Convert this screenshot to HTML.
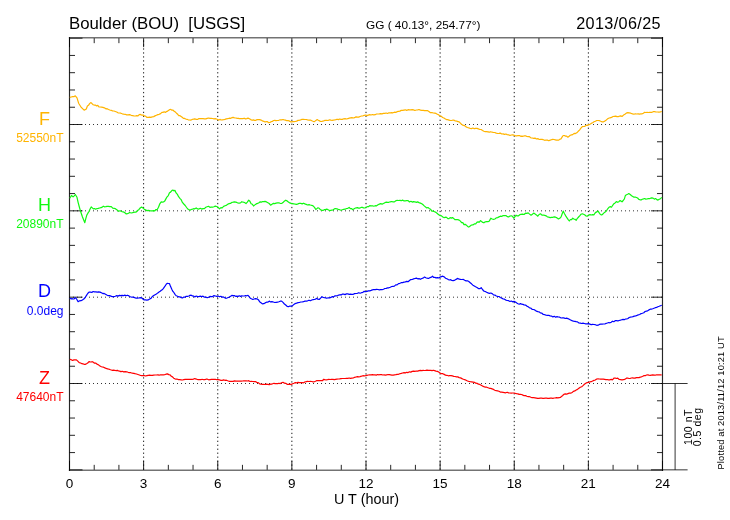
<!DOCTYPE html>
<html><head><meta charset="utf-8"><style>
html,body{margin:0;padding:0;background:#fff;}
svg{display:block;will-change:transform;}
text{font-family:"Liberation Sans",sans-serif;}
</style></head><body>
<svg width="730" height="520" viewBox="0 0 730 520">
<path d="M69.5 37.0V471.0M662.49 37.0V471.0" stroke="#000" stroke-width="1.15" stroke-opacity="0.85" fill="none"/>
<path d="M68.9 37.75H663.09M68.9 470.25H663.09" stroke="#000" stroke-width="1.5" stroke-opacity="0.55" fill="none"/>
<line x1="143.62" y1="38.17" x2="143.62" y2="469.845" stroke="#000" stroke-width="1" stroke-dasharray="1.3 2.663" stroke-dashoffset="1.71" stroke-opacity="0.9"/>
<line x1="217.75" y1="38.17" x2="217.75" y2="469.845" stroke="#000" stroke-width="1" stroke-dasharray="1.3 2.663" stroke-dashoffset="1.71" stroke-opacity="0.9"/>
<line x1="291.87" y1="38.17" x2="291.87" y2="469.845" stroke="#000" stroke-width="1" stroke-dasharray="1.3 2.663" stroke-dashoffset="1.71" stroke-opacity="0.9"/>
<line x1="366.00" y1="38.17" x2="366.00" y2="469.845" stroke="#000" stroke-width="1" stroke-dasharray="1.3 2.663" stroke-dashoffset="1.71" stroke-opacity="0.9"/>
<line x1="440.12" y1="38.17" x2="440.12" y2="469.845" stroke="#000" stroke-width="1" stroke-dasharray="1.3 2.663" stroke-dashoffset="1.71" stroke-opacity="0.9"/>
<line x1="514.24" y1="38.17" x2="514.24" y2="469.845" stroke="#000" stroke-width="1" stroke-dasharray="1.3 2.663" stroke-dashoffset="1.71" stroke-opacity="0.9"/>
<line x1="588.37" y1="38.17" x2="588.37" y2="469.845" stroke="#000" stroke-width="1" stroke-dasharray="1.3 2.663" stroke-dashoffset="1.71" stroke-opacity="0.9"/>
<line x1="69.5" y1="124.50" x2="662.49" y2="124.50" stroke="#000" stroke-width="1" stroke-dasharray="1 3" stroke-dashoffset="0.5" stroke-opacity="0.8"/>
<line x1="69.5" y1="210.84" x2="662.49" y2="210.84" stroke="#000" stroke-width="1" stroke-dasharray="1 3" stroke-dashoffset="0.5" stroke-opacity="0.8"/>
<line x1="69.5" y1="297.18" x2="662.49" y2="297.18" stroke="#000" stroke-width="1" stroke-dasharray="1 3" stroke-dashoffset="0.5" stroke-opacity="0.8"/>
<line x1="69.5" y1="383.51" x2="662.49" y2="383.51" stroke="#000" stroke-width="1" stroke-dasharray="1 3" stroke-dashoffset="0.5" stroke-opacity="0.8"/>
<path d="M69.50 469.85v-9M69.50 38.17v9M94.21 469.85v-5M94.21 38.17v5M118.92 469.85v-5M118.92 38.17v5M143.62 469.85v-9M143.62 38.17v9M168.33 469.85v-5M168.33 38.17v5M193.04 469.85v-5M193.04 38.17v5M217.75 469.85v-9M217.75 38.17v9M242.46 469.85v-5M242.46 38.17v5M267.16 469.85v-5M267.16 38.17v5M291.87 469.85v-9M291.87 38.17v9M316.58 469.85v-5M316.58 38.17v5M341.29 469.85v-5M341.29 38.17v5M366.00 469.85v-9M366.00 38.17v9M390.70 469.85v-5M390.70 38.17v5M415.41 469.85v-5M415.41 38.17v5M440.12 469.85v-9M440.12 38.17v9M464.83 469.85v-5M464.83 38.17v5M489.54 469.85v-5M489.54 38.17v5M514.24 469.85v-9M514.24 38.17v9M538.95 469.85v-5M538.95 38.17v5M563.66 469.85v-5M563.66 38.17v5M588.37 469.85v-9M588.37 38.17v9M613.08 469.85v-5M613.08 38.17v5M637.78 469.85v-5M637.78 38.17v5M662.49 469.85v-9M662.49 38.17v9M69.5 38.17h13M662.49 38.17h-11.5M69.5 55.44h5.5M662.49 55.44h-5.5M69.5 72.70h5.5M662.49 72.70h-5.5M69.5 89.97h5.5M662.49 89.97h-5.5M69.5 107.24h5.5M662.49 107.24h-5.5M69.5 124.50h13M662.49 124.50h-11.5M69.5 141.77h5.5M662.49 141.77h-5.5M69.5 159.04h5.5M662.49 159.04h-5.5M69.5 176.31h5.5M662.49 176.31h-5.5M69.5 193.57h5.5M662.49 193.57h-5.5M69.5 210.84h13M662.49 210.84h-11.5M69.5 228.11h5.5M662.49 228.11h-5.5M69.5 245.37h5.5M662.49 245.37h-5.5M69.5 262.64h5.5M662.49 262.64h-5.5M69.5 279.91h5.5M662.49 279.91h-5.5M69.5 297.18h13M662.49 297.18h-11.5M69.5 314.44h5.5M662.49 314.44h-5.5M69.5 331.71h5.5M662.49 331.71h-5.5M69.5 348.98h5.5M662.49 348.98h-5.5M69.5 366.24h5.5M662.49 366.24h-5.5M69.5 383.51h13M662.49 383.51h-11.5M69.5 400.78h5.5M662.49 400.78h-5.5M69.5 418.04h5.5M662.49 418.04h-5.5M69.5 435.31h5.5M662.49 435.31h-5.5M69.5 452.58h5.5M662.49 452.58h-5.5M69.5 469.85h13M662.49 469.85h-11.5" stroke="#000" stroke-width="1" fill="none" stroke-opacity="0.85"/>
<path d="M662.49 383.51H687.6M662.49 469.85H687.6M675.1 383.51V469.85" stroke="#000" stroke-width="1" fill="none" stroke-opacity="0.8"/>
<path d="M69.8 97.3 L71.2 97.0 L72.6 96.7 L73.9 96.7 L75.3 95.8 L77.0 97.9 L78.6 103.2 L80.2 105.7 L81.3 107.5 L82.4 108.4 L83.5 109.6 L84.6 110.1 L86.3 109.0 L87.4 106.0 L88.5 105.3 L89.6 103.6 L90.7 102.6 L92.0 103.6 L93.2 104.7 L94.5 105.1 L95.6 105.2 L96.7 106.0 L97.8 105.4 L98.9 106.8 L100.0 107.0 L101.5 107.1 L102.9 107.4 L104.4 107.8 L105.8 108.8 L107.1 108.7 L108.5 109.5 L109.8 110.0 L111.2 110.3 L112.5 110.9 L113.9 111.0 L115.3 111.5 L116.7 112.0 L118.0 112.8 L119.4 113.0 L120.8 113.2 L122.3 113.8 L123.7 114.1 L125.2 114.3 L126.7 114.9 L128.1 114.9 L129.6 114.6 L131.2 115.3 L132.8 115.6 L134.1 116.0 L135.4 116.0 L136.7 115.7 L138.0 115.9 L139.2 114.6 L140.5 114.4 L141.9 115.2 L143.3 115.1 L144.5 116.0 L145.6 116.1 L146.8 117.3 L148.2 117.3 L149.6 117.1 L150.9 117.4 L152.3 116.8 L153.7 116.6 L155.0 115.9 L156.4 115.3 L157.8 114.6 L159.2 114.3 L160.6 113.6 L161.9 112.3 L163.0 112.4 L164.2 111.8 L165.3 112.4 L166.5 111.6 L167.6 111.1 L168.8 110.2 L169.8 109.5 L170.8 109.4 L171.9 110.2 L173.1 110.2 L174.2 111.2 L175.4 112.1 L176.5 113.2 L177.7 114.3 L178.8 115.6 L180.0 115.7 L181.1 116.5 L182.2 117.3 L183.4 118.4 L184.5 118.4 L185.7 119.0 L187.0 119.3 L188.2 119.8 L189.5 120.0 L190.7 120.2 L192.1 119.4 L193.4 119.2 L194.8 118.9 L196.2 119.3 L197.6 119.4 L198.9 118.6 L200.3 118.6 L201.7 118.6 L203.1 118.6 L204.4 118.8 L205.8 118.9 L207.2 118.4 L208.5 118.0 L209.9 118.3 L211.2 118.3 L212.6 118.5 L213.9 118.9 L215.3 118.7 L216.5 119.0 L217.6 119.5 L218.8 120.1 L219.9 119.4 L221.1 120.0 L222.2 119.8 L223.6 119.7 L224.9 119.4 L226.3 118.9 L227.7 118.7 L229.1 118.2 L230.4 118.4 L231.8 117.7 L233.2 117.4 L234.5 117.8 L235.9 118.0 L237.2 118.4 L238.6 118.4 L239.1 118.6 L240.4 118.6 L241.6 118.5 L242.9 118.6 L244.2 118.2 L245.5 118.9 L246.7 118.6 L248.0 118.1 L249.4 118.8 L250.7 119.6 L252.1 120.3 L253.3 119.9 L254.6 120.4 L255.8 120.3 L257.1 119.6 L258.3 119.5 L259.7 119.6 L261.1 120.1 L262.4 120.9 L263.8 121.3 L265.0 122.0 L266.2 121.6 L267.5 121.7 L268.7 122.7 L269.9 122.5 L271.1 121.7 L272.3 121.5 L273.5 120.5 L274.7 120.4 L276.1 120.7 L277.4 120.5 L278.8 120.3 L280.2 119.8 L281.6 119.8 L282.9 119.5 L284.3 119.9 L285.5 120.1 L286.8 120.7 L288.0 120.6 L289.3 120.9 L290.5 121.8 L291.7 121.9 L292.9 121.7 L294.1 121.6 L295.3 121.5 L296.7 121.1 L298.0 120.4 L299.4 120.3 L300.7 119.9 L302.1 119.3 L303.5 119.3 L304.9 119.5 L306.2 119.5 L307.6 119.9 L309.0 120.1 L310.4 120.0 L311.8 120.8 L313.1 121.3 L314.5 121.6 L315.9 120.4 L317.2 119.6 L318.3 120.3 L319.5 120.9 L320.6 121.5 L321.7 121.4 L322.9 121.2 L324.0 120.7 L325.4 120.3 L326.8 120.4 L328.1 120.5 L329.5 119.8 L330.9 120.2 L332.1 120.3 L333.4 120.1 L334.6 119.9 L335.9 119.6 L337.1 119.2 L338.4 119.6 L339.6 119.0 L341.0 119.4 L342.3 119.4 L343.7 118.8 L345.1 118.7 L346.5 119.0 L347.8 118.7 L349.2 118.1 L350.6 117.8 L351.9 117.6 L353.3 118.0 L354.6 117.7 L356.0 116.8 L357.4 117.2 L358.7 117.1 L360.1 116.5 L361.5 116.0 L362.8 116.0 L364.2 115.3 L365.6 115.0 L367.0 115.6 L368.3 115.1 L369.7 114.7 L371.1 115.0 L372.4 114.5 L373.8 114.8 L375.2 114.7 L376.5 114.0 L377.9 114.0 L379.3 113.9 L380.7 113.7 L382.0 113.8 L383.4 113.4 L384.8 113.4 L386.2 113.0 L387.6 113.5 L388.9 112.8 L390.3 112.8 L391.7 112.7 L393.0 112.8 L394.4 112.2 L395.8 112.4 L397.1 111.7 L398.5 111.4 L399.9 111.1 L401.2 110.4 L402.6 110.4 L404.0 110.1 L405.3 109.8 L406.7 110.4 L408.1 109.7 L409.5 109.8 L410.8 109.9 L412.2 109.7 L413.5 109.9 L414.9 110.5 L416.3 110.0 L417.7 109.8 L419.1 109.5 L420.4 110.2 L421.8 110.3 L423.2 110.3 L424.6 110.7 L425.9 110.5 L427.3 110.6 L428.9 111.6 L430.5 112.7 L431.9 112.5 L433.2 113.0 L434.6 113.1 L436.0 113.4 L437.4 114.3 L438.7 114.9 L440.0 115.7 L441.4 116.4 L442.6 117.5 L443.9 118.0 L445.1 118.8 L446.4 119.6 L447.6 119.7 L449.0 120.1 L450.4 120.5 L451.7 120.5 L453.1 120.0 L454.3 120.4 L455.5 121.0 L456.8 121.1 L458.0 121.7 L459.2 121.9 L460.6 123.4 L461.9 124.4 L463.3 125.4 L464.7 125.7 L466.1 126.9 L467.4 127.5 L468.8 127.8 L470.2 128.5 L471.5 128.6 L472.9 128.0 L474.3 128.7 L475.7 128.3 L477.0 128.4 L478.4 128.9 L479.8 129.5 L481.2 129.5 L482.5 130.4 L483.9 131.2 L485.3 131.7 L486.7 131.6 L488.0 131.8 L489.4 132.2 L490.7 131.7 L492.1 132.2 L493.5 132.5 L494.8 132.5 L496.2 133.1 L497.6 133.5 L499.0 133.4 L500.3 133.1 L501.7 134.0 L503.1 133.9 L504.5 134.4 L505.9 134.0 L507.2 134.6 L508.6 134.8 L510.0 135.5 L511.3 135.0 L512.6 134.9 L514.0 135.2 L515.4 135.8 L516.8 135.9 L518.1 135.5 L519.5 135.6 L520.7 136.3 L521.9 136.1 L523.1 136.3 L524.4 135.8 L525.6 135.8 L526.8 136.5 L528.2 136.6 L529.5 136.7 L530.9 137.9 L532.3 138.0 L533.7 138.4 L535.0 138.1 L536.4 139.0 L537.8 138.6 L539.2 139.5 L540.5 139.3 L541.9 139.4 L543.3 139.7 L544.7 140.3 L546.0 140.0 L547.4 140.1 L548.8 140.7 L550.2 140.1 L551.5 139.7 L552.9 139.4 L554.1 139.5 L555.3 139.8 L556.5 140.1 L557.7 140.2 L558.8 140.1 L560.0 139.1 L561.1 138.8 L562.2 136.9 L563.2 135.5 L564.4 135.5 L565.5 136.1 L566.7 136.2 L567.9 137.2 L569.1 136.3 L570.3 135.3 L571.5 134.9 L572.7 134.6 L574.1 133.4 L575.4 133.6 L576.8 132.8 L578.2 131.3 L579.5 130.1 L580.9 128.2 L582.3 126.7 L583.5 126.5 L584.8 126.3 L586.0 125.4 L587.3 125.4 L588.5 124.9 L589.9 124.2 L591.2 123.4 L592.6 122.7 L594.0 121.8 L595.4 121.2 L596.7 120.5 L598.1 120.5 L599.5 120.7 L600.8 121.3 L602.2 121.9 L603.5 121.8 L604.8 121.1 L606.0 120.2 L607.3 119.1 L608.6 118.3 L610.0 117.8 L611.5 117.4 L613.0 116.5 L614.4 116.3 L615.7 116.1 L616.9 116.6 L618.2 116.6 L619.5 116.2 L620.7 115.9 L622.0 116.5 L623.5 115.1 L624.9 114.3 L626.3 113.1 L627.8 112.6 L629.2 112.9 L630.7 113.2 L632.6 113.9 L634.0 114.2 L635.3 113.8 L636.7 114.0 L638.1 113.8 L639.5 114.1 L640.8 113.8 L642.2 113.8 L643.4 113.2 L644.6 112.3 L645.8 112.5 L647.1 112.4 L648.3 112.5 L649.6 112.3 L650.8 112.3 L652.0 112.3 L653.2 111.7 L654.4 111.5 L655.6 111.9 L657.5 112.0 L658.9 112.2 L660.4 111.9 L661.8 111.5" fill="none" stroke="#ffb400" stroke-width="1.2" stroke-linejoin="round"/>
<path d="M69.8 198.2 L71.5 195.5 L73.1 196.9 L74.2 195.9 L75.3 194.5 L77.0 197.3 L78.1 202.3 L79.2 206.5 L80.2 210.2 L81.3 213.5 L82.4 216.7 L83.5 219.4 L84.8 222.7 L85.8 218.6 L86.8 215.1 L87.9 213.2 L89.0 211.5 L90.1 209.1 L91.2 206.9 L92.3 207.9 L93.4 208.9 L94.5 208.5 L95.6 209.2 L96.7 208.7 L98.2 208.4 L99.6 208.0 L101.1 207.7 L102.2 207.1 L103.3 206.2 L104.4 206.8 L105.8 206.7 L107.1 206.4 L108.5 206.4 L109.8 206.6 L111.3 206.6 L112.7 208.2 L114.2 208.3 L115.7 208.9 L117.1 209.9 L118.6 211.3 L120.1 210.7 L121.5 211.5 L123.0 211.9 L124.1 212.2 L125.2 213.0 L126.3 214.0 L127.4 213.7 L128.5 213.3 L129.6 212.5 L131.2 213.0 L132.8 212.7 L133.9 212.3 L135.0 212.0 L136.1 212.1 L137.5 210.5 L138.8 209.7 L140.2 208.0 L141.6 207.0 L142.9 207.9 L144.2 209.2 L145.5 209.9 L146.8 210.6 L148.2 210.3 L149.6 210.7 L150.9 210.8 L152.3 210.9 L153.7 210.6 L154.8 210.9 L156.0 209.5 L157.1 209.8 L158.5 207.3 L159.8 203.8 L161.2 201.9 L162.4 202.1 L163.5 202.0 L164.7 201.1 L165.9 198.9 L167.1 196.8 L168.3 195.6 L169.5 192.7 L170.6 192.1 L171.8 190.6 L172.9 190.0 L173.9 190.9 L174.9 190.3 L176.1 192.9 L177.4 194.4 L178.6 196.7 L179.9 198.3 L181.1 199.6 L182.4 202.4 L183.8 204.0 L185.2 205.5 L186.6 207.5 L187.7 208.9 L188.9 209.6 L190.0 210.2 L191.2 209.5 L192.4 209.2 L193.6 208.7 L194.8 208.8 L196.2 207.9 L197.6 208.9 L198.9 209.1 L200.3 208.3 L201.7 209.1 L203.0 208.6 L204.4 208.6 L205.8 207.3 L207.1 206.8 L208.5 206.3 L209.9 207.3 L211.2 207.2 L212.6 207.2 L213.9 206.8 L215.3 206.1 L216.7 206.5 L218.1 207.3 L219.5 208.8 L220.9 207.6 L222.2 207.8 L223.6 206.4 L225.0 205.8 L226.3 205.4 L227.7 204.3 L229.1 203.6 L230.4 203.4 L231.8 202.4 L233.2 202.2 L234.5 201.9 L235.9 202.1 L237.5 202.8 L239.1 203.1 L240.5 202.9 L241.8 201.7 L243.2 202.2 L244.6 202.5 L246.0 203.6 L247.3 202.1 L248.7 200.2 L249.9 201.3 L251.1 203.8 L252.3 204.2 L253.5 206.0 L254.9 204.9 L256.2 203.9 L257.6 203.4 L259.0 202.8 L260.2 201.8 L261.4 202.1 L262.7 201.5 L263.9 201.7 L265.1 201.4 L266.5 201.9 L267.9 202.7 L269.2 203.5 L270.6 205.2 L272.0 204.2 L273.4 203.3 L274.7 203.6 L276.1 203.2 L277.5 202.9 L278.9 202.9 L280.2 203.3 L281.6 203.5 L283.0 202.6 L284.3 201.2 L285.7 200.2 L287.1 200.9 L288.4 201.9 L289.8 202.9 L291.1 203.4 L292.5 203.6 L293.9 203.8 L295.2 204.2 L296.6 204.3 L298.0 203.9 L299.4 203.3 L300.7 203.3 L302.1 203.9 L303.5 203.2 L304.9 203.9 L306.2 204.4 L307.6 205.0 L309.0 204.6 L310.4 205.0 L311.7 205.3 L313.1 205.9 L314.5 207.4 L315.8 209.5 L316.9 208.6 L317.9 207.8 L319.2 208.3 L320.6 209.8 L321.8 210.4 L323.0 210.4 L324.2 209.7 L325.4 209.6 L326.8 209.1 L328.1 209.8 L329.5 210.6 L330.7 210.3 L331.9 210.1 L333.1 210.0 L334.3 208.9 L335.5 208.5 L336.9 208.8 L338.2 209.4 L339.6 209.7 L341.0 210.2 L342.4 209.7 L343.7 209.3 L345.1 209.2 L346.5 208.5 L347.8 208.3 L349.2 207.4 L350.3 208.7 L351.5 208.5 L352.6 209.7 L353.8 209.0 L355.0 208.3 L356.2 207.8 L357.4 207.6 L358.6 208.1 L359.9 208.1 L361.1 207.4 L362.4 207.4 L363.6 207.9 L364.9 208.0 L366.1 207.3 L367.3 206.7 L368.5 206.7 L369.7 205.6 L371.1 205.8 L372.5 205.8 L373.8 206.2 L375.2 205.7 L376.6 205.8 L378.0 204.8 L379.4 204.1 L380.7 203.6 L382.1 204.1 L383.5 203.5 L384.8 202.7 L386.2 202.1 L387.5 202.4 L388.9 202.3 L390.3 201.8 L391.6 201.5 L393.0 201.8 L394.4 201.9 L395.8 200.8 L397.1 200.4 L398.5 200.5 L399.9 200.4 L401.3 200.7 L402.6 200.1 L404.0 200.9 L405.3 200.8 L406.7 200.5 L408.1 200.6 L409.5 202.0 L410.9 201.3 L412.2 202.1 L413.5 201.6 L414.9 201.8 L416.3 202.4 L417.6 201.9 L419.0 202.6 L420.4 203.1 L421.8 203.8 L423.1 204.8 L424.5 206.1 L425.6 207.0 L426.8 207.9 L428.0 207.5 L429.1 208.4 L430.5 209.2 L431.8 211.1 L433.2 211.2 L434.6 211.7 L436.0 212.4 L437.3 213.5 L438.7 214.7 L440.1 215.4 L441.5 215.9 L442.8 217.0 L444.2 217.6 L445.4 217.2 L446.6 217.4 L447.8 218.6 L449.0 218.7 L450.1 217.6 L451.3 218.1 L452.4 217.6 L453.8 218.6 L455.1 219.7 L456.5 219.7 L457.8 219.6 L459.2 220.1 L460.4 221.1 L461.6 222.7 L462.8 222.6 L464.0 224.6 L465.2 224.3 L466.4 225.2 L467.6 226.4 L468.8 227.1 L470.2 226.0 L471.5 225.0 L472.9 224.9 L474.3 223.9 L475.7 223.8 L477.1 222.1 L478.2 221.9 L479.4 222.1 L480.5 220.6 L481.6 221.5 L482.8 222.4 L483.9 222.8 L485.3 221.8 L486.6 221.7 L488.0 221.7 L489.4 220.9 L490.8 218.2 L492.2 219.0 L493.5 219.4 L494.9 219.0 L496.2 217.9 L497.6 217.6 L499.0 216.9 L500.4 216.2 L501.7 216.4 L503.1 215.6 L504.5 215.7 L505.9 215.5 L507.2 216.6 L508.6 216.9 L510.0 216.0 L511.3 215.8 L512.5 216.3 L513.8 218.2 L515.0 216.6 L516.1 215.2 L517.2 215.9 L518.2 215.9 L519.5 214.9 L520.9 214.3 L522.5 214.2 L524.1 214.5 L525.5 213.2 L526.8 213.4 L528.2 212.9 L529.6 214.1 L531.0 215.2 L532.4 214.2 L533.7 213.1 L535.1 214.0 L536.4 214.9 L537.8 216.2 L539.1 214.5 L540.5 213.8 L541.9 215.1 L543.3 215.0 L544.7 215.4 L546.1 215.8 L547.4 216.9 L548.8 217.1 L550.2 217.7 L551.5 217.4 L552.9 217.3 L554.2 216.9 L555.6 217.2 L557.0 217.9 L558.4 219.0 L559.8 218.3 L561.1 216.9 L562.2 213.8 L563.2 211.1 L564.5 213.7 L565.9 216.1 L567.0 217.8 L568.2 219.6 L569.3 221.0 L570.4 219.5 L571.6 219.6 L572.7 218.2 L573.9 219.0 L575.0 219.3 L576.2 220.3 L577.4 218.3 L578.6 217.0 L579.9 215.7 L581.1 214.2 L582.3 213.8 L583.5 214.3 L584.6 214.8 L585.8 215.8 L587.2 216.2 L588.5 215.2 L589.9 214.6 L591.3 215.0 L592.6 214.6 L594.0 214.8 L595.4 212.6 L596.7 211.9 L598.1 211.2 L599.2 212.8 L600.4 214.5 L601.5 215.0 L602.6 214.4 L603.7 213.1 L604.8 212.2 L606.2 211.2 L607.7 208.8 L609.1 207.2 L610.3 206.6 L611.5 207.2 L612.7 205.3 L613.9 203.7 L615.1 202.9 L616.3 201.6 L617.7 202.3 L618.9 201.7 L620.1 200.5 L622.0 201.8 L623.2 200.5 L624.4 198.8 L625.4 195.4 L626.5 194.7 L627.7 194.3 L628.8 193.6 L630.2 194.5 L631.6 195.7 L632.8 196.4 L634.0 197.2 L635.2 197.0 L636.4 197.5 L637.6 198.0 L638.8 199.4 L640.0 199.8 L641.2 199.9 L642.3 199.3 L643.5 198.9 L644.6 198.5 L645.8 199.1 L647.0 199.0 L648.2 198.6 L649.4 198.7 L650.6 198.2 L651.8 197.9 L653.1 198.1 L654.3 199.1 L655.6 198.5 L656.8 199.6 L658.0 200.1 L659.3 199.2 L660.5 198.7 L661.8 197.3" fill="none" stroke="#10f810" stroke-width="1.2" stroke-linejoin="round"/>
<path d="M69.8 298.0 L70.9 298.9 L72.0 298.7 L73.1 299.0 L74.2 298.9 L75.3 297.7 L76.7 299.2 L78.1 301.7 L79.5 300.8 L81.0 300.7 L82.4 299.9 L83.8 299.1 L85.2 297.5 L86.5 295.4 L87.7 293.5 L89.0 292.2 L90.4 292.2 L91.8 292.4 L93.1 291.5 L94.5 291.9 L95.9 291.8 L97.2 292.1 L98.6 291.9 L100.0 292.1 L101.4 292.8 L102.8 293.6 L104.1 293.4 L105.5 294.2 L106.8 295.0 L108.2 295.7 L109.6 295.6 L110.9 296.1 L112.4 296.7 L113.8 296.7 L115.3 296.2 L116.7 295.6 L118.0 296.1 L119.4 295.4 L120.8 295.7 L122.1 295.4 L123.4 295.7 L124.8 295.1 L126.1 295.7 L127.4 295.2 L128.9 295.9 L130.3 296.7 L131.8 297.2 L133.2 297.1 L134.7 297.6 L136.1 298.2 L137.5 298.2 L138.8 298.0 L140.2 297.7 L141.6 297.8 L142.9 299.0 L144.2 299.9 L145.5 299.9 L146.9 300.1 L148.2 299.9 L149.6 299.0 L151.0 298.4 L152.3 296.5 L153.7 295.6 L155.1 294.7 L156.4 294.0 L157.8 292.9 L159.0 292.1 L160.2 291.3 L161.4 290.3 L162.6 289.5 L163.8 287.8 L165.0 286.2 L166.2 284.3 L167.4 283.3 L168.4 283.5 L169.5 283.7 L170.6 286.6 L171.8 289.2 L172.9 291.4 L174.0 292.7 L175.2 294.6 L176.3 295.8 L177.5 296.2 L178.8 296.9 L180.0 296.9 L181.3 297.6 L182.5 298.0 L183.8 297.1 L185.0 297.2 L186.2 296.3 L187.5 296.4 L188.8 296.0 L190.0 295.3 L191.2 295.2 L192.4 295.9 L193.6 296.1 L194.8 296.9 L196.2 296.0 L197.6 296.6 L198.9 296.6 L200.3 296.2 L201.7 296.5 L203.0 296.2 L204.4 297.2 L205.7 297.0 L207.1 297.6 L208.5 297.3 L209.9 296.4 L211.2 296.7 L212.6 296.6 L214.0 295.6 L215.4 296.0 L216.7 296.4 L218.1 296.0 L219.4 296.8 L220.8 296.3 L222.0 297.1 L223.3 296.9 L224.5 297.6 L225.8 298.3 L227.0 298.0 L228.2 297.5 L229.4 297.1 L230.6 296.3 L231.8 295.4 L233.1 295.6 L234.3 295.6 L235.6 296.3 L236.8 296.2 L238.1 296.4 L239.3 295.8 L240.6 296.4 L241.8 295.9 L243.0 296.0 L244.3 296.0 L245.5 295.5 L246.8 295.8 L248.0 295.3 L249.1 296.7 L250.3 298.2 L251.4 298.8 L252.8 299.5 L254.1 299.0 L255.5 298.6 L256.9 298.8 L258.3 299.7 L259.6 301.7 L261.0 302.7 L262.4 303.9 L263.8 303.7 L265.1 302.9 L266.5 302.2 L267.8 302.2 L269.2 301.1 L270.6 301.9 L272.0 301.6 L273.3 302.0 L274.7 302.5 L276.1 302.3 L277.5 302.2 L278.9 301.7 L280.2 301.2 L281.6 301.1 L283.0 302.4 L284.4 304.0 L285.7 305.0 L287.1 306.3 L288.5 306.7 L289.8 306.0 L291.2 306.1 L292.6 305.7 L293.9 304.4 L295.2 303.6 L296.6 303.2 L298.0 302.6 L299.4 302.5 L300.7 302.0 L302.1 302.0 L303.5 301.7 L304.9 301.1 L306.2 301.2 L307.6 300.8 L309.0 300.2 L310.4 300.7 L311.8 300.0 L313.1 299.7 L314.5 299.5 L315.5 299.1 L316.5 298.4 L317.9 299.1 L319.2 299.5 L320.6 298.1 L322.0 296.7 L323.2 297.5 L324.4 297.7 L325.6 297.8 L326.8 298.3 L328.2 297.8 L329.5 297.9 L330.9 297.4 L332.3 296.6 L333.6 296.9 L335.0 295.8 L336.2 295.9 L337.5 295.5 L338.7 295.1 L340.0 294.7 L341.2 295.0 L342.5 294.0 L343.7 294.2 L345.1 294.6 L346.4 293.9 L347.8 293.9 L349.2 294.3 L350.5 294.2 L351.9 294.3 L353.3 294.3 L354.6 293.6 L356.0 293.5 L357.4 293.3 L358.8 292.7 L360.1 293.2 L361.5 292.7 L362.9 292.3 L364.2 291.3 L365.6 291.7 L367.0 291.4 L368.3 290.9 L369.7 290.9 L371.1 290.4 L372.4 289.9 L373.8 289.5 L375.2 289.6 L376.6 289.3 L378.0 289.5 L379.3 289.8 L380.7 289.7 L382.1 289.7 L383.5 289.2 L384.8 288.5 L386.2 288.3 L387.6 287.9 L388.9 287.8 L390.3 287.2 L391.7 286.5 L393.0 286.3 L394.4 286.1 L395.7 284.9 L397.1 284.9 L398.5 283.6 L399.9 283.3 L401.2 282.7 L402.6 282.6 L404.0 282.2 L405.4 281.9 L406.7 281.4 L408.1 281.7 L409.5 280.5 L410.8 279.6 L412.2 279.5 L413.6 278.9 L414.9 278.5 L416.3 278.1 L417.7 278.8 L419.0 278.6 L420.4 279.3 L421.8 278.5 L423.1 278.1 L424.5 277.0 L425.8 277.8 L427.1 278.2 L428.4 278.5 L429.8 277.7 L431.1 277.4 L432.5 276.2 L433.7 277.5 L434.8 277.4 L436.0 277.9 L437.4 277.6 L438.7 278.0 L440.1 277.1 L441.4 276.6 L442.8 276.2 L444.2 276.9 L445.6 278.2 L446.9 278.8 L448.3 279.6 L449.5 280.0 L450.7 279.7 L451.9 280.5 L453.1 280.7 L454.2 280.4 L455.4 279.7 L456.5 279.1 L457.9 278.4 L459.2 279.2 L460.6 279.4 L462.0 279.5 L463.4 279.4 L464.7 280.2 L466.1 280.9 L467.5 280.8 L468.8 281.5 L470.2 282.7 L471.5 283.8 L472.9 285.2 L474.3 286.0 L475.6 286.8 L477.0 287.6 L478.4 288.6 L479.8 288.7 L481.2 287.7 L482.5 289.5 L483.9 291.2 L485.3 291.5 L486.6 292.3 L488.0 292.9 L489.4 293.3 L490.8 293.0 L492.2 293.6 L493.5 294.9 L494.9 295.1 L496.3 296.0 L497.6 296.4 L499.0 296.5 L500.3 297.5 L501.7 298.1 L503.1 299.0 L504.5 299.2 L505.8 300.1 L507.2 300.5 L508.6 300.7 L510.0 301.5 L511.3 301.0 L512.6 301.8 L514.0 301.4 L515.4 302.1 L516.8 303.1 L518.0 303.8 L519.2 304.2 L520.5 303.6 L521.7 304.2 L522.9 304.4 L524.1 304.9 L525.5 305.1 L526.8 306.1 L528.2 306.7 L529.6 307.9 L530.9 308.1 L532.3 309.5 L533.7 309.5 L535.0 310.1 L536.4 311.2 L537.8 311.6 L539.2 311.9 L540.5 313.0 L541.9 313.2 L543.3 314.5 L544.7 314.7 L546.0 315.1 L547.4 315.3 L548.8 315.4 L550.2 315.8 L551.5 316.1 L552.9 316.9 L554.3 316.3 L555.6 317.2 L557.0 316.6 L558.4 317.0 L559.7 317.2 L561.1 318.0 L562.5 317.8 L563.8 317.9 L565.2 318.5 L566.5 318.2 L567.9 318.6 L569.3 319.2 L570.6 320.0 L572.0 320.6 L573.4 321.1 L574.8 321.3 L576.2 321.7 L577.5 321.9 L578.9 323.0 L580.3 323.2 L581.7 323.5 L583.0 323.1 L584.4 323.5 L585.8 323.9 L587.1 323.9 L588.5 323.7 L589.9 324.1 L591.2 324.7 L592.6 324.3 L594.0 324.5 L595.3 324.7 L596.7 325.3 L598.1 325.2 L599.4 324.4 L600.8 324.2 L602.2 324.1 L603.5 324.0 L604.9 324.0 L606.2 323.3 L607.4 323.0 L608.7 322.5 L610.0 322.8 L611.2 322.2 L612.5 321.2 L613.8 321.7 L615.2 320.7 L616.5 320.7 L617.9 320.9 L619.2 320.5 L620.5 320.2 L621.7 319.8 L623.0 319.4 L624.3 319.7 L625.5 319.0 L626.8 318.9 L628.0 318.5 L629.2 317.5 L630.4 317.2 L631.6 317.0 L633.0 316.6 L634.3 316.1 L635.7 315.9 L637.0 315.4 L638.4 314.8 L639.7 314.5 L641.1 313.6 L642.4 313.2 L643.8 312.7 L645.1 311.5 L646.4 311.1 L647.6 310.8 L648.9 309.9 L650.2 309.2 L651.4 309.1 L652.7 308.7 L654.0 308.2 L655.3 307.7 L656.6 307.4 L657.9 306.8 L659.2 306.3 L660.5 305.7 L661.8 305.3" fill="none" stroke="#0000ff" stroke-width="1.2" stroke-linejoin="round"/>
<path d="M69.8 359.3 L71.2 359.7 L72.6 360.5 L73.9 359.9 L75.1 359.8 L76.4 359.8 L77.8 361.2 L79.2 362.7 L80.6 363.0 L81.9 363.7 L83.0 363.9 L84.1 364.3 L85.2 364.4 L86.5 363.7 L87.7 363.0 L89.0 361.6 L90.1 361.9 L91.2 362.0 L92.3 361.7 L93.4 362.3 L94.5 363.2 L95.6 363.1 L96.9 364.1 L98.2 364.6 L99.6 365.7 L100.9 366.5 L102.2 367.0 L103.5 367.2 L104.9 367.9 L106.2 368.4 L107.6 368.9 L109.1 369.2 L110.5 369.8 L112.0 370.3 L113.4 370.2 L114.8 370.3 L116.1 370.7 L117.5 370.4 L118.6 371.0 L119.7 371.1 L120.8 371.6 L122.3 371.3 L123.7 371.9 L125.2 371.6 L126.7 371.8 L128.1 372.3 L129.6 372.7 L130.9 372.7 L132.3 373.2 L133.7 373.4 L135.0 373.7 L136.5 374.0 L137.9 374.5 L139.4 375.0 L140.6 375.5 L141.8 375.7 L143.1 375.6 L144.3 375.5 L145.5 376.0 L146.9 375.6 L148.2 375.3 L149.6 375.2 L150.9 375.4 L152.3 375.3 L153.7 375.1 L155.0 375.0 L156.4 375.0 L157.8 374.8 L159.2 375.2 L160.5 374.8 L161.9 374.9 L163.3 374.8 L164.7 374.6 L166.0 374.2 L167.4 373.9 L168.8 374.6 L170.1 374.9 L171.3 376.3 L172.5 376.9 L173.7 378.2 L174.9 378.8 L176.1 379.1 L177.4 379.2 L178.6 379.6 L179.9 379.7 L181.1 379.8 L182.5 380.0 L183.8 379.6 L185.2 379.3 L186.6 379.3 L187.9 379.4 L189.3 379.3 L190.7 379.4 L192.0 379.3 L193.4 379.1 L194.8 378.5 L195.8 379.1 L196.8 379.2 L198.1 379.7 L199.5 379.7 L200.8 379.7 L202.1 379.3 L203.4 379.7 L204.8 379.6 L206.1 379.2 L207.4 379.2 L208.7 379.8 L210.1 379.6 L211.4 379.4 L212.7 379.3 L214.0 379.3 L215.4 379.3 L216.7 379.7 L218.1 379.7 L219.5 379.9 L220.9 380.3 L222.2 380.3 L223.6 379.9 L224.9 380.3 L226.3 380.2 L227.7 380.8 L229.0 381.3 L230.4 381.4 L231.8 381.3 L233.1 381.3 L234.5 380.9 L235.9 381.2 L237.2 381.1 L238.6 381.2 L240.0 381.0 L241.2 381.2 L242.5 381.0 L243.7 380.9 L245.0 380.8 L246.2 380.8 L247.5 381.0 L248.7 380.7 L250.1 381.5 L251.4 381.3 L252.8 381.5 L254.2 381.6 L255.5 381.6 L256.9 382.5 L258.2 382.6 L259.6 383.8 L261.0 384.2 L262.4 384.3 L263.7 384.4 L265.1 384.5 L266.5 384.2 L267.9 384.3 L269.2 384.6 L270.6 384.1 L271.6 384.1 L272.7 383.7 L273.9 383.3 L275.2 383.6 L276.4 383.6 L277.7 383.7 L278.9 383.2 L280.2 383.6 L281.6 382.8 L283.0 382.3 L284.4 383.2 L285.7 383.3 L287.1 384.3 L288.5 384.3 L289.8 384.2 L291.2 384.6 L292.6 383.7 L293.9 383.2 L295.3 382.6 L296.7 382.8 L298.0 382.4 L299.4 382.6 L300.8 382.6 L302.1 382.6 L303.5 382.8 L304.9 381.9 L306.2 381.7 L307.6 381.4 L309.0 381.5 L310.4 381.4 L311.7 381.5 L313.1 381.8 L314.5 381.6 L315.5 381.3 L316.5 380.7 L317.7 380.6 L319.0 380.6 L320.2 380.7 L321.5 380.6 L322.7 380.7 L323.4 379.3 L324.8 379.7 L326.1 379.8 L327.5 379.6 L328.8 379.3 L330.2 379.5 L331.5 379.3 L332.9 379.4 L334.2 379.7 L335.6 379.3 L336.9 379.1 L338.3 379.0 L339.6 378.9 L341.0 378.6 L342.4 378.5 L343.7 378.5 L345.1 378.5 L346.4 378.4 L347.8 378.4 L349.2 378.0 L350.5 378.3 L351.9 378.1 L353.3 378.0 L354.6 377.3 L356.0 377.0 L357.4 376.7 L358.8 376.8 L360.1 376.6 L361.5 376.2 L362.9 375.7 L364.3 375.8 L365.6 375.6 L367.0 375.3 L368.4 375.0 L369.7 374.8 L371.1 374.8 L372.4 374.7 L373.7 374.8 L375.0 374.9 L376.3 375.1 L377.6 374.5 L378.9 374.8 L380.2 374.5 L381.5 374.6 L382.8 375.0 L384.1 374.8 L385.4 375.1 L386.7 374.8 L388.0 374.5 L389.3 374.7 L390.6 374.9 L391.9 375.1 L393.2 375.1 L394.5 374.8 L395.8 374.7 L397.2 374.3 L398.5 374.3 L399.9 373.7 L401.3 373.4 L402.6 373.0 L404.0 372.7 L405.4 372.9 L406.7 372.3 L408.1 372.6 L409.5 371.8 L410.8 372.1 L412.2 371.4 L413.6 371.1 L414.9 371.4 L416.3 371.0 L417.7 371.1 L419.1 370.6 L420.4 370.4 L421.8 370.6 L423.2 370.4 L424.5 370.5 L425.7 370.4 L427.0 370.1 L428.3 370.4 L429.5 370.4 L430.8 370.3 L432.1 370.6 L433.3 370.2 L434.6 370.6 L436.0 371.1 L437.4 371.4 L438.7 372.0 L440.1 373.1 L441.5 373.7 L442.8 373.7 L444.2 374.4 L445.5 375.1 L446.9 375.3 L448.3 375.8 L449.6 375.7 L451.0 375.6 L452.4 375.9 L453.8 376.3 L455.1 376.5 L456.5 376.9 L457.8 376.9 L459.2 377.6 L460.6 377.9 L462.0 378.6 L463.4 379.2 L464.7 379.6 L466.1 380.2 L467.5 381.0 L468.9 381.4 L470.2 381.7 L471.6 381.9 L473.0 382.1 L474.4 382.3 L475.7 383.2 L477.1 383.4 L478.5 384.1 L479.8 384.4 L481.2 385.2 L482.6 386.1 L483.9 386.6 L485.3 387.1 L486.7 387.2 L488.0 387.7 L489.4 388.3 L490.7 388.4 L492.1 388.9 L493.5 389.4 L494.8 390.2 L496.2 390.7 L497.6 390.9 L498.9 391.3 L500.3 392.1 L501.7 392.2 L503.1 392.4 L504.4 392.6 L505.8 392.8 L507.2 392.3 L508.6 392.9 L509.9 393.0 L511.3 393.1 L512.7 393.0 L514.0 393.0 L515.4 393.4 L516.6 393.7 L517.9 393.9 L519.1 394.4 L520.4 394.4 L521.6 394.5 L522.9 395.1 L524.1 395.6 L525.5 395.6 L526.9 396.3 L528.2 396.7 L529.6 396.7 L531.0 397.3 L532.4 397.6 L533.7 397.7 L535.0 397.8 L536.4 398.1 L537.7 398.4 L538.9 398.4 L540.2 398.2 L541.5 398.0 L542.8 398.4 L544.0 398.4 L545.3 398.0 L546.6 398.2 L547.8 398.4 L549.1 398.4 L550.4 398.2 L551.7 398.2 L552.9 398.3 L554.2 398.0 L555.4 397.9 L556.7 397.7 L557.9 397.9 L559.2 397.6 L560.4 397.5 L561.5 396.4 L562.7 395.5 L563.8 394.3 L565.2 393.9 L566.6 394.2 L567.9 393.6 L569.3 393.1 L570.7 393.2 L572.1 392.5 L573.4 391.4 L574.8 390.9 L576.2 390.0 L577.5 389.4 L578.9 388.3 L580.3 387.2 L581.7 386.7 L583.0 385.6 L584.4 384.3 L585.8 383.2 L587.1 382.6 L588.5 382.5 L589.9 381.8 L591.2 381.7 L592.6 381.0 L594.0 380.4 L595.3 380.0 L596.7 379.0 L598.0 378.9 L599.3 379.0 L600.7 379.1 L602.0 379.1 L603.3 379.1 L604.6 379.4 L605.9 379.7 L607.2 379.5 L608.5 379.8 L609.9 379.8 L611.2 379.4 L612.5 379.8 L613.9 378.1 L615.2 378.0 L616.4 378.5 L617.7 378.1 L619.2 379.5 L620.6 379.6 L622.0 379.8 L623.5 379.6 L624.9 379.4 L626.4 378.2 L627.6 378.0 L628.9 378.5 L630.1 378.5 L631.3 378.0 L632.5 377.9 L633.8 378.1 L635.0 378.1 L636.4 377.6 L637.7 377.6 L639.0 377.6 L640.3 377.1 L641.2 377.0 L642.7 376.3 L644.1 375.6 L645.3 375.7 L646.5 375.0 L647.7 374.9 L648.9 375.2 L650.2 375.3 L651.5 375.1 L652.8 374.9 L654.1 375.1 L655.3 375.2 L656.6 374.8 L657.9 374.9 L659.2 374.9 L660.5 374.8 L661.8 375.0" fill="none" stroke="#ff0000" stroke-width="1.2" stroke-linejoin="round"/>
<text x="69" y="29" font-size="16.8">Boulder (BOU)</text>
<text x="188.3" y="29" font-size="16.8">[USGS]</text>
<text x="366" y="28.9" font-size="11.8">GG ( 40.13°, 254.77°)</text>
<text x="660.9" y="29" font-size="16.2" letter-spacing="0.37" text-anchor="end">2013/06/25</text>
<text x="69.50" y="487.6" font-size="13.5" text-anchor="middle">0</text>
<text x="143.62" y="487.6" font-size="13.5" text-anchor="middle">3</text>
<text x="217.75" y="487.6" font-size="13.5" text-anchor="middle">6</text>
<text x="291.87" y="487.6" font-size="13.5" text-anchor="middle">9</text>
<text x="366.00" y="487.6" font-size="13.5" text-anchor="middle">12</text>
<text x="440.12" y="487.6" font-size="13.5" text-anchor="middle">15</text>
<text x="514.24" y="487.6" font-size="13.5" text-anchor="middle">18</text>
<text x="588.37" y="487.6" font-size="13.5" text-anchor="middle">21</text>
<text x="662.49" y="487.6" font-size="13.5" text-anchor="middle">24</text>
<text x="366.5" y="504" font-size="14.4" text-anchor="middle">U T (hour)</text>
<text x="44.5" y="124.50" font-size="18" fill="#ffb400" text-anchor="middle">F</text>
<text x="63.5" y="142.10" font-size="12" fill="#ffb400" text-anchor="end">52550nT</text>
<text x="44.5" y="210.84" font-size="18" fill="#10f810" text-anchor="middle">H</text>
<text x="63.5" y="228.44" font-size="12" fill="#10f810" text-anchor="end">20890nT</text>
<text x="44.5" y="297.18" font-size="18" fill="#0000ff" text-anchor="middle">D</text>
<text x="63.5" y="314.78" font-size="12" fill="#0000ff" text-anchor="end">0.0deg</text>
<text x="44.5" y="383.51" font-size="18" fill="#ff0000" text-anchor="middle">Z</text>
<text x="63.5" y="401.11" font-size="12" fill="#ff0000" text-anchor="end">47640nT</text>
<text transform="translate(692.4 445) rotate(-90)" font-size="10.5" letter-spacing="0.55">100 nT</text>
<text transform="translate(701.1 446.3) rotate(-90)" font-size="10.5" letter-spacing="0.55">0.5 deg</text>
<text transform="translate(724.0 469.5) rotate(-90)" font-size="9.3" letter-spacing="0.16">Plotted at 2013/11/12 10:21 UT</text>
</svg>
</body></html>
